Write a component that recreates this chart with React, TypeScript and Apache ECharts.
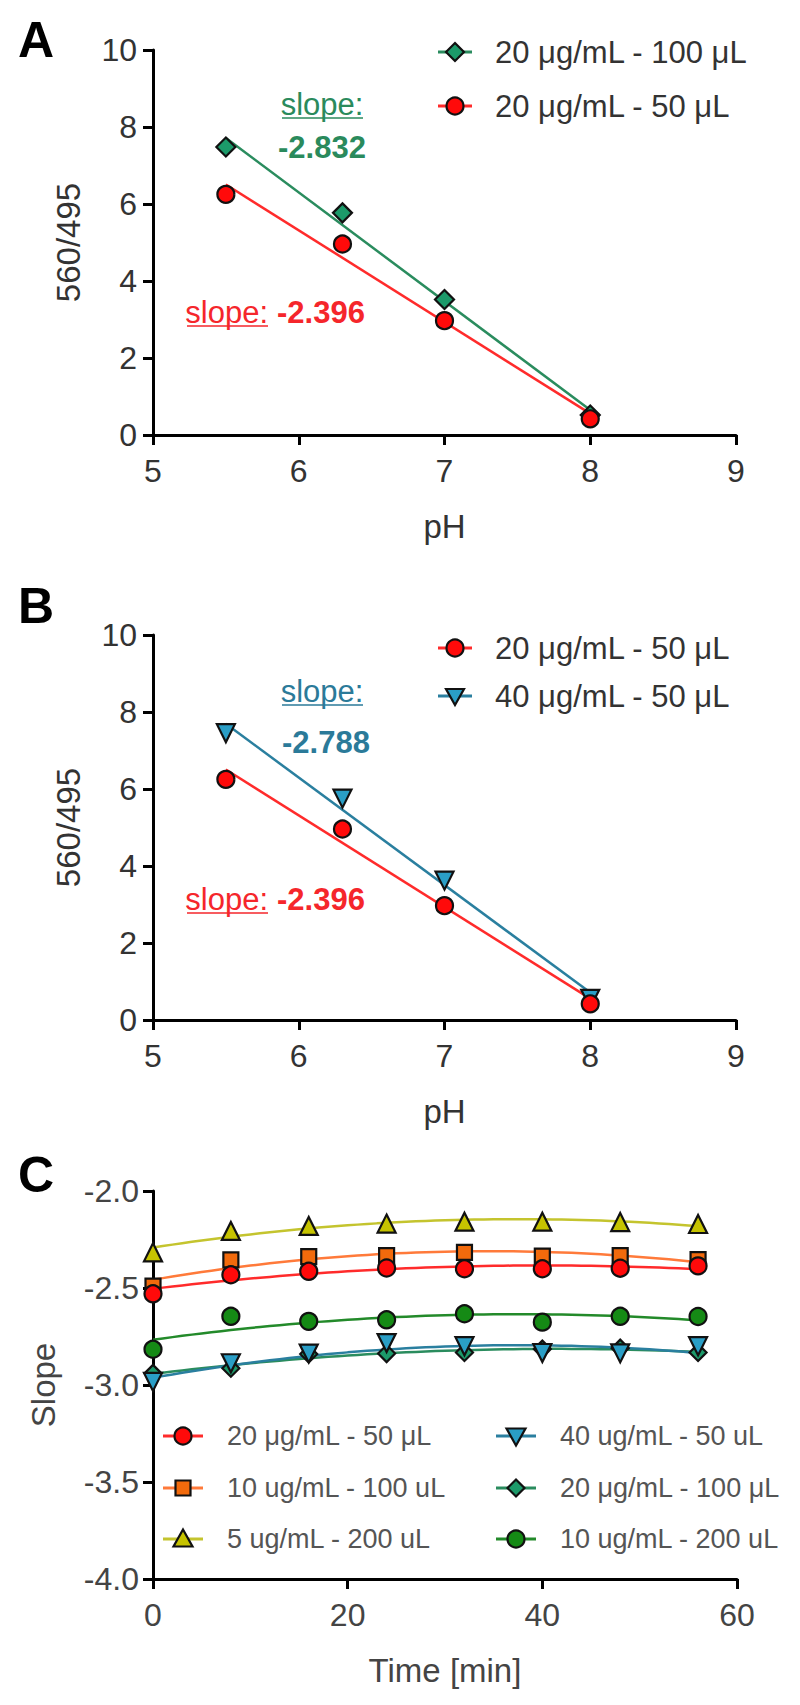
import React, { useEffect, useRef } from "react";
import * as echarts from "echarts";

// ---------- DATA ----------
const phValues = [5.5, 6.3, 7.0, 8.0];
const ratio20ug100uL = [7.48, 5.77, 3.52, 0.52];
const ratio20ug50uL = [6.25, 4.96, 2.97, 0.42];
const ratio40ug50uL = [7.45, 5.75, 3.62, 0.55];

const slopeLabel20ug100uL = "-2.832";
const slopeLabel20ug50uL = "-2.396";
const slopeLabel40ug50uL = "-2.788";

const timeMin = [0, 8, 16, 24, 32, 40, 48, 56];
const slopeC_20ug50uL = [-2.53, -2.432, -2.414, -2.397, -2.401, -2.401, -2.398, -2.386];
const slopeC_10ug100uL = [-2.49, -2.355, -2.338, -2.333, -2.316, -2.336, -2.333, -2.354];
const slopeC_5ug200uL = [-2.316, -2.206, -2.18, -2.168, -2.158, -2.158, -2.16, -2.17];
const slopeC_40ug50uL = [-2.984, -2.888, -2.838, -2.784, -2.8, -2.835, -2.837, -2.8];
const slopeC_20ug100uL = [-2.94, -2.914, -2.84, -2.838, -2.832, -2.815, -2.81, -2.832];
const slopeC_10ug200uL = [-2.816, -2.646, -2.672, -2.664, -2.633, -2.676, -2.646, -2.647];

const namesA = ["20 μg/mL - 100 μL", "20 μg/mL - 50 μL"];
const namesB = ["20 μg/mL - 50 μL", "40 μg/mL - 50 μL"];
const namesC = [
  "20 μg/mL - 50 μL",
  "10 ug/mL - 100 uL",
  "5 ug/mL - 200 uL",
  "40 ug/mL - 50 uL",
  "20 μg/mL - 100 μL",
  "10 ug/mL - 200 uL",
];

// ---------- STYLE ----------
const FONT = '"Liberation Sans", Arial, Helvetica, sans-serif';
const C_RED = { fill: "#ff0a0a", line: "#ff2b2b", text: "#f5262b" };
const C_GREEN = { fill: "#1c9a6a", line: "#2a8c5e", text: "#2a8a5c" };
const C_BLUE = { fill: "#2a9ec6", line: "#2a7f9f", text: "#2b7a99" };
const C_ORANGE = { fill: "#f26a0c", line: "#ff7a3a" };
const C_YELLOW = { fill: "#c6c300", line: "#c4c42e" };
const C_DKGREEN = { fill: "#158a15", line: "#238a2a" };

function linFit(xs: number[], ys: number[]) {
  const n = xs.length;
  const mx = xs.reduce((a, b) => a + b, 0) / n;
  const my = ys.reduce((a, b) => a + b, 0) / n;
  let sxy = 0, sxx = 0;
  for (let i = 0; i < n; i++) {
    sxy += (xs[i] - mx) * (ys[i] - my);
    sxx += (xs[i] - mx) * (xs[i] - mx);
  }
  const b = sxy / sxx;
  const a = my - b * mx;
  return (x: number) => a + b * x;
}

function quadFit(xs: number[], ys: number[]) {
  let s0 = 0, s1 = 0, s2 = 0, s3 = 0, s4 = 0, t0 = 0, t1 = 0, t2 = 0;
  for (let i = 0; i < xs.length; i++) {
    const x = xs[i], y = ys[i];
    s0 += 1; s1 += x; s2 += x * x; s3 += x * x * x; s4 += x * x * x * x;
    t0 += y; t1 += x * y; t2 += x * x * y;
  }
  const M = [
    [s0, s1, s2, t0],
    [s1, s2, s3, t1],
    [s2, s3, s4, t2],
  ];
  for (let c = 0; c < 3; c++) {
    for (let r = c + 1; r < 3; r++) {
      const f = M[r][c] / M[c][c];
      for (let k = c; k < 4; k++) M[r][k] -= f * M[c][k];
    }
  }
  const coef = [0, 0, 0];
  for (let r = 2; r >= 0; r--) {
    let s = M[r][3];
    for (let k = r + 1; k < 3; k++) s -= M[r][k] * coef[k];
    coef[r] = s / M[r][r];
  }
  return (x: number) => coef[0] + coef[1] * x + coef[2] * x * x;
}

function pairs(xs: number[], ys: number[]) {
  return xs.map((x, i) => [x, ys[i]]);
}

function fitLineData(xs: number[], ys: number[]) {
  const f = linFit(xs, ys);
  const x0 = xs[0], x1 = xs[xs.length - 1];
  return [[x0, f(x0)], [x1, f(x1)]];
}

function fitCurveData(xs: number[], ys: number[]) {
  const f = quadFit(xs, ys);
  const out: number[][] = [];
  const x0 = xs[0], x1 = xs[xs.length - 1];
  for (let x = x0; x <= x1 + 1e-9; x += 1) out.push([x, f(x)]);
  return out;
}

function markerGraphic(shape: string, x: number, y: number, fill: string, s = 8) {
  const style = { fill, stroke: "#111", lineWidth: 2.2 };
  if (shape === "circle") return { type: "circle", shape: { cx: x, cy: y, r: s }, style };
  if (shape === "rect") return { type: "rect", shape: { x: x - s, y: y - s, width: 2 * s, height: 2 * s }, style };
  if (shape === "diamond")
    return { type: "polygon", shape: { points: [[x, y - s - 1], [x + s + 1, y], [x, y + s + 1], [x - s - 1, y]] }, style };
  if (shape === "triangle")
    return { type: "polygon", shape: { points: [[x, y - s - 1], [x + s + 1, y + s - 1], [x - s - 1, y + s - 1]] }, style };
  return { type: "polygon", shape: { points: [[x - s - 1, y - s + 1], [x + s + 1, y - s + 1], [x, y + s + 1]] }, style };
}

function legendEntry(
  x: number, y: number, name: string, lineColor: string, fill: string, shape: string,
  textColor: string, fontSize: number, halfLine: number, textDx: number, ms: number
) {
  return [
    { type: "line", shape: { x1: x - halfLine, y1: y, x2: x + halfLine, y2: y }, style: { stroke: lineColor, lineWidth: 3 } },
    markerGraphic(shape, x, y, fill, ms),
    {
      type: "text", x: x + textDx, y,
      style: { text: name, fill: textColor, fontSize, fontFamily: FONT, align: "left", verticalAlign: "middle" },
    },
  ];
}

function txt(x: number, y: number, text: string, fill: string, fontSize: number, bold = false, align = "center") {
  return {
    type: "text", x, y,
    style: { text, fill, fontSize, fontFamily: FONT, fontWeight: bold ? "bold" : "normal", align, verticalAlign: "middle" },
  };
}

function underline(x1: number, x2: number, y: number, color: string) {
  return { type: "line", shape: { x1, y1: y, x2, y2: y }, style: { stroke: color, lineWidth: 1.5 } };
}

const TICK_FS = 32;
const NAME_FS = 33;

function axisBase(color: string, extraLabel: any = {}) {
  return {
    type: "value",
    axisLine: { show: true, onZero: false, lineStyle: { color: "#000", width: 3 } },
    axisTick: { show: true, length: 10, lineStyle: { color: "#000", width: 3 } },
    splitLine: { show: false },
    axisLabel: { color, fontSize: TICK_FS, fontFamily: FONT, ...extraLabel },
    nameTextStyle: { color, fontSize: NAME_FS, fontFamily: FONT },
    nameLocation: "middle",
  };
}

export default function App() {
  const ref = useRef<HTMLDivElement>(null);

  useEffect(() => {
    document.body.style.margin = "0";
    if (!ref.current) return;
    const chart = echarts.init(ref.current, undefined, { renderer: "svg" });

    const scatter = (name: string, xi: number, xs: number[], ys: number[], symbol: string, size: number, fill: string, rotate = 0) => ({
      name, type: "scatter", xAxisIndex: xi, yAxisIndex: xi, data: pairs(xs, ys),
      symbol, symbolSize: size, symbolRotate: rotate,
      itemStyle: { color: fill, borderColor: "#111", borderWidth: 2.2, opacity: 1 },
      z: 5,
    });
    const fitLine = (xi: number, data: number[][], color: string) => ({
      type: "line", xAxisIndex: xi, yAxisIndex: xi, data, symbol: "none", smooth: false,
      lineStyle: { color, width: 2.5 }, z: 3, silent: true,
    });

    const gray = "#333";
    const grayC = "#444";
    const legC = "#555";

    const graphic: any[] = [
      txt(36, 40, "A", "#000", 50, true),
      txt(36, 606, "B", "#000", 50, true),
      txt(36, 1175, "C", "#000", 50, true),
      // panel A legend
      ...legendEntry(455, 52, namesA[0], C_GREEN.line, C_GREEN.fill, "diamond", gray, 31, 17, 40, 8),
      ...legendEntry(455, 106, namesA[1], C_RED.line, C_RED.fill, "circle", gray, 31, 17, 40, 8.5),
      // panel A slopes
      txt(322, 104, "slope:", C_GREEN.text, 31),
      underline(282, 363, 118, C_GREEN.text),
      txt(322, 147, slopeLabel20ug100uL, C_GREEN.text, 31, true),
      txt(268, 312, "slope:", C_RED.text, 31, false, "right"),
      underline(187, 268, 326, C_RED.text),
      txt(277, 312, slopeLabel20ug50uL, C_RED.text, 31, true, "left"),
      // panel B legend
      ...legendEntry(455, 648, namesB[0], C_RED.line, C_RED.fill, "circle", gray, 31, 17, 40, 8.5),
      ...legendEntry(455, 696, namesB[1], C_BLUE.line, C_BLUE.fill, "tridown", gray, 31, 17, 40, 8),
      // panel B slopes
      txt(322, 691, "slope:", C_BLUE.text, 31),
      underline(282, 363, 705, C_BLUE.text),
      txt(326, 742, slopeLabel40ug50uL, C_BLUE.text, 31, true),
      txt(268, 899, "slope:", C_RED.text, 31, false, "right"),
      underline(187, 268, 913, C_RED.text),
      txt(277, 899, slopeLabel20ug50uL, C_RED.text, 31, true, "left"),
      // panel C legend
      ...legendEntry(183, 1436, namesC[0], C_RED.line, C_RED.fill, "circle", legC, 27, 20, 44, 8.5),
      ...legendEntry(183, 1488, namesC[1], C_ORANGE.line, C_ORANGE.fill, "rect", legC, 27, 20, 44, 7.5),
      ...legendEntry(183, 1539, namesC[2], C_YELLOW.line, C_YELLOW.fill, "triangle", legC, 27, 20, 44, 8.5),
      ...legendEntry(516, 1436, namesC[3], C_BLUE.line, C_BLUE.fill, "tridown", legC, 27, 20, 44, 8.5),
      ...legendEntry(516, 1488, namesC[4], C_GREEN.line, C_GREEN.fill, "diamond", legC, 27, 20, 44, 7.5),
      ...legendEntry(516, 1539, namesC[5], C_DKGREEN.line, C_DKGREEN.fill, "circle", legC, 27, 20, 44, 8.5),
    ];

    const option: any = {
      animation: false,
      backgroundColor: "#fff",
      grid: [
        { left: 153, top: 50, width: 583, height: 385 },
        { left: 153, top: 635, width: 583, height: 385 },
        { left: 153, top: 1191, width: 584, height: 388 },
      ],
      xAxis: [
        { ...axisBase(gray, { margin: 20 }), gridIndex: 0, min: 5, max: 9, interval: 1, name: "pH", nameGap: 75 },
        { ...axisBase(gray, { margin: 20 }), gridIndex: 1, min: 5, max: 9, interval: 1, name: "pH", nameGap: 75 },
        { ...axisBase(grayC, { margin: 20 }), gridIndex: 2, min: 0, max: 60, interval: 20, name: "Time [min]", nameGap: 75 },
      ],
      yAxis: [
        { ...axisBase(gray, { margin: 16 }), gridIndex: 0, min: 0, max: 10, interval: 2, name: "560/495", nameGap: 68 },
        { ...axisBase(gray, { margin: 16 }), gridIndex: 1, min: 0, max: 10, interval: 2, name: "560/495", nameGap: 68 },
        {
          ...axisBase(grayC, { margin: 14, formatter: (v: number) => v.toFixed(1) }),
          gridIndex: 2, min: -4, max: -2, interval: 0.5, name: "Slope", nameGap: 93,
        },
      ],
      series: [
        // Panel A
        fitLine(0, fitLineData(phValues, ratio20ug100uL), C_GREEN.line),
        fitLine(0, fitLineData(phValues, ratio20ug50uL), C_RED.line),
        scatter(namesA[0], 0, phValues, ratio20ug100uL, "diamond", 19, C_GREEN.fill),
        scatter(namesA[1], 0, phValues, ratio20ug50uL, "circle", 17, C_RED.fill),
        // Panel B
        fitLine(1, fitLineData(phValues, ratio40ug50uL), C_BLUE.line),
        fitLine(1, fitLineData(phValues, ratio20ug50uL), C_RED.line),
        scatter(namesB[1], 1, phValues, ratio40ug50uL, "triangle", 18, C_BLUE.fill, 180),
        scatter(namesB[0], 1, phValues, ratio20ug50uL, "circle", 17, C_RED.fill),
        // Panel C fits
        fitLine(2, fitCurveData(timeMin, slopeC_5ug200uL), C_YELLOW.line),
        fitLine(2, fitCurveData(timeMin, slopeC_10ug100uL), C_ORANGE.line),
        fitLine(2, fitCurveData(timeMin, slopeC_20ug50uL), C_RED.line),
        fitLine(2, fitCurveData(timeMin, slopeC_10ug200uL), C_DKGREEN.line),
        fitLine(2, fitCurveData(timeMin, slopeC_20ug100uL), C_GREEN.line),
        fitLine(2, fitCurveData(timeMin, slopeC_40ug50uL), C_BLUE.line),
        // Panel C points
        scatter(namesC[2], 2, timeMin, slopeC_5ug200uL, "triangle", 18, C_YELLOW.fill),
        scatter(namesC[1], 2, timeMin, slopeC_10ug100uL, "rect", 15, C_ORANGE.fill),
        scatter(namesC[0], 2, timeMin, slopeC_20ug50uL, "circle", 17, C_RED.fill),
        scatter(namesC[5], 2, timeMin, slopeC_10ug200uL, "circle", 17, C_DKGREEN.fill),
        scatter(namesC[4], 2, timeMin, slopeC_20ug100uL, "diamond", 17, C_GREEN.fill),
        scatter(namesC[3], 2, timeMin, slopeC_40ug50uL, "triangle", 18, C_BLUE.fill, 180),
      ],
      graphic,
    };

    chart.setOption(option);
    return () => chart.dispose();
  }, []);

  return <div ref={ref} style={{ width: 800, height: 1705 }} />;
}
